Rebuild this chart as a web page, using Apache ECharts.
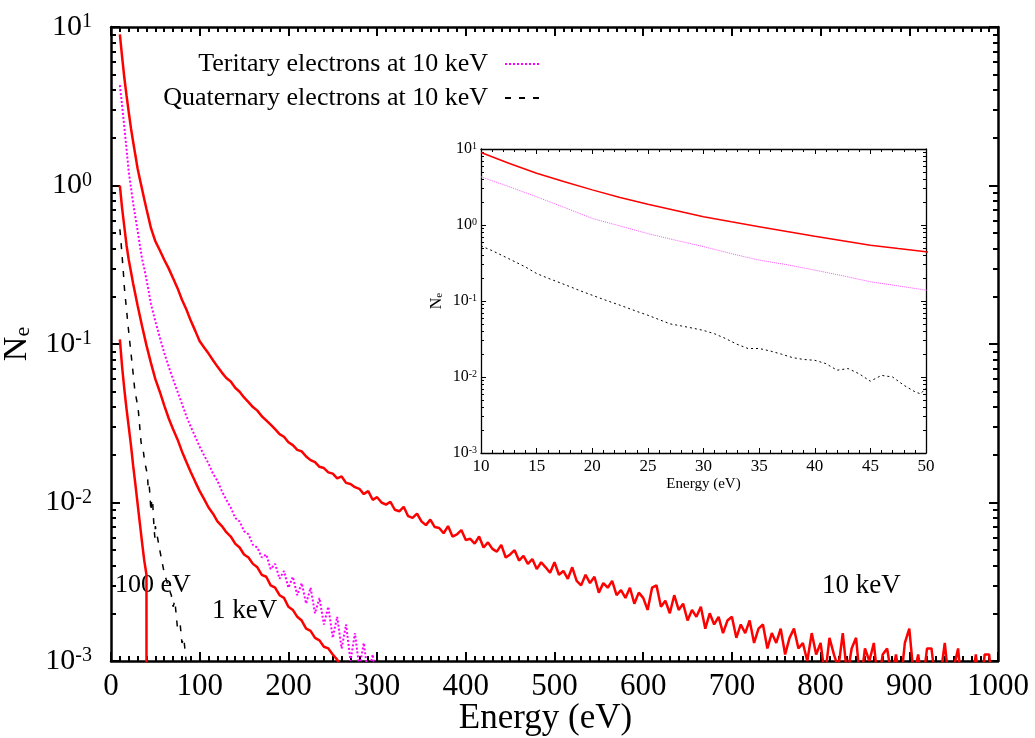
<!DOCTYPE html>
<html>
<head>
<meta charset="utf-8">
<script src="https://cdn.jsdelivr.net/npm/echarts@6/dist/echarts.min.js"></script>
<style>
  html, body { margin: 0; padding: 0; background: #fff; }
  #chart { width: 1035px; height: 738px; }
</style>
</head>
<body>
<div id="chart"></div>
<script>
// [energy (eV), Ne]
const tenKeV = [
  [10, 9.0], [12.5, 6.5], [15, 4.8], [17.5, 3.7], [20, 2.9], [22.5, 2.3], [25, 1.88], [27.5, 1.55],
  [30, 1.28], [32.5, 1.1], [35, 0.95], [37.5, 0.82], [40, 0.71], [42.5, 0.62], [45, 0.54], [47.5, 0.49],
  [50, 0.445], [55, 0.39], [60, 0.34], [65, 0.30], [70, 0.26], [75, 0.225], [80, 0.19], [85, 0.165],
  [90, 0.14], [95, 0.121]
]
const tenKeVTail = [
  [100, 0.104], [105, 0.095], [110, 0.087], [115, 0.079], [120, 0.072], [125, 0.066], [130, 0.061], [135, 0.058],
  [140, 0.053], [145, 0.050], [150, 0.046], [155, 0.043], [160, 0.040], [165, 0.038], [170, 0.035], [175, 0.033],
  [180, 0.031], [185, 0.029], [190, 0.027], [195, 0.026], [200, 0.024], [205, 0.023], [210, 0.0215], [215, 0.021],
  [220, 0.0195], [225, 0.0185], [230, 0.0180], [235, 0.0168], [240, 0.0165], [245, 0.0155], [250, 0.0152], [255, 0.0142],
  [260, 0.0146], [265, 0.0133], [270, 0.0131], [275, 0.0125], [280, 0.0122], [285, 0.0113], [290, 0.0118], [295, 0.0104],
  [300, 0.0108], [305, 0.0100], [310, 0.0097], [315, 0.0101], [320, 0.0090], [325, 0.0088], [330, 0.0094], [335, 0.0082],
  [340, 0.0080], [345, 0.0085], [350, 0.0076], [355, 0.0072], [360, 0.0078], [365, 0.0070], [370, 0.0069], [375, 0.0064],
  [380, 0.0071], [385, 0.0061], [390, 0.0063], [395, 0.0067], [400, 0.0058], [405, 0.0059], [410, 0.0055], [415, 0.0061],
  [420, 0.0052], [425, 0.0056], [430, 0.0051], [435, 0.0049], [440, 0.0054], [445, 0.0045], [450, 0.0047], [455, 0.0050],
  [460, 0.0043], [465, 0.0046], [470, 0.0041], [475, 0.0044], [480, 0.0038], [485, 0.0042], [490, 0.0039], [495, 0.0036],
  [500, 0.0042], [505, 0.0035], [510, 0.0037], [515, 0.0033], [520, 0.0039], [525, 0.0032], [530, 0.0030], [535, 0.0035],
  [540, 0.0031], [545, 0.0034], [550, 0.0027], [555, 0.0031], [560, 0.0029], [565, 0.0032], [570, 0.0026], [575, 0.0028],
  [580, 0.0025], [585, 0.0029], [590, 0.0023], [595, 0.0027], [600, 0.0025], [605, 0.0021], [610, 0.0029], [615, 0.0030],
  [620, 0.0022], [625, 0.0024], [630, 0.0020], [635, 0.0026], [640, 0.0021], [645, 0.0023], [650, 0.0018], [655, 0.0021],
  [660, 0.0019], [665, 0.0022], [670, 0.0016], [675, 0.0020], [680, 0.0017], [685, 0.0019], [690, 0.0015], [695, 0.0018],
  [700, 0.0019], [705, 0.0014], [710, 0.0017], [715, 0.0015], [720, 0.0018], [725, 0.0013], [730, 0.0016], [735, 0.0017],
  [740, 0.0012], [745, 0.0015], [750, 0.0013], [755, 0.0016], [760, 0.0011], [765, 0.0014], [770, 0.0016], [775, 0.0012],
  [780, 0.0013], [785, 0.0010], [790, 0.0015], [795, 0.0011], [800, 0.0013], [805, 0.0008], [810, 0.0014], [815, 0.0011],
  [820, 0.0009], [825, 0.0015], [830, 0.0008], [835, 0.0012], [840, 0.0014], [845, 0.0007], [850, 0.0012], [855, 0.0010],
  [860, 0.0013], [865, 0.0007], [870, 0.0011], [875, 0.0012], [880, 0.0008], [885, 0.0011], [890, 0.0007], [895, 0.0013],
  [900, 0.0016], [905, 0.0008], [910, 0.0011], [915, 0.0007], [920, 0.0012], [925, 0.0012], [930, 0.0007], [935, 0.0008],
  [940, 0.0013], [945, 0.0007], [950, 0.0009], [955, 0.0012], [960, 0.0006], [965, 0.0008], [970, 0.0007], [975, 0.0011],
  [980, 0.0006], [985, 0.0011], [990, 0.0011], [995, 0.0006]
]
const oneKeV = [
  [10, 1.0], [12.5, 0.72], [15, 0.55], [17.5, 0.42], [20, 0.34], [25, 0.24], [30, 0.175], [35, 0.13],
  [40, 0.098], [45, 0.076], [50, 0.060], [55, 0.050], [60, 0.041], [65, 0.034], [70, 0.029], [75, 0.025],
  [80, 0.021], [85, 0.018], [90, 0.0155], [95, 0.0135], [100, 0.0118], [105, 0.0105], [110, 0.0093], [115, 0.0085],
  [120, 0.0076], [125, 0.0071], [130, 0.0065], [135, 0.0061], [140, 0.0055], [145, 0.0052], [150, 0.0047], [155, 0.0045],
  [160, 0.0041], [165, 0.0039], [170, 0.0035], [175, 0.0034], [180, 0.0030], [185, 0.0029], [190, 0.0026], [195, 0.0025],
  [200, 0.0022], [205, 0.0021], [210, 0.0019], [215, 0.0018], [220, 0.0016], [225, 0.00155], [230, 0.0014], [235, 0.00135],
  [240, 0.00123], [245, 0.0012], [250, 0.0011], [255, 0.00102], [260, 0.0009]
]
const hundredEV = [
  [10, 0.107], [12.5, 0.072], [15, 0.052], [17.5, 0.039], [20, 0.030], [22.5, 0.023], [25, 0.017], [27.5, 0.013],
  [30, 0.0098], [32.5, 0.0074], [35, 0.0056], [37.5, 0.0043], [40, 0.0035], [40.1, 0.00001]
]
const tertiary = [
  [10, 4.3], [12.5, 3.2], [15, 2.35], [17.5, 1.7], [20, 1.22], [22.5, 0.97], [25, 0.77], [27.5, 0.63],
  [30, 0.52], [32.5, 0.42], [35, 0.345], [37.5, 0.30], [40, 0.255], [42.5, 0.215], [45, 0.179], [47.5, 0.158],
  [50, 0.139], [55, 0.110], [60, 0.088], [65, 0.072], [70, 0.060], [75, 0.050], [80, 0.042], [85, 0.035],
  [90, 0.030], [95, 0.026], [100, 0.0225], [105, 0.0198], [110, 0.0176], [115, 0.0152], [120, 0.0137], [125, 0.0118],
  [130, 0.0104], [135, 0.0093], [140, 0.0080], [145, 0.0076], [150, 0.0066], [155, 0.0063], [160, 0.0054], [165, 0.0052],
  [170, 0.0045], [175, 0.0047], [180, 0.0038], [185, 0.0041], [190, 0.0033], [195, 0.0037], [200, 0.0029], [205, 0.0034],
  [210, 0.0026], [215, 0.0031], [220, 0.0023], [225, 0.0029], [230, 0.0020], [235, 0.0025], [240, 0.0017], [245, 0.0022],
  [250, 0.0014], [255, 0.0019], [260, 0.0012], [265, 0.0017], [270, 0.0010], [275, 0.0015], [280, 0.0009], [285, 0.0013],
  [290, 0.0008], [295, 0.0011], [300, 0.0007]
]
const quaternary = [
  [10, 0.53], [11, 0.46], [12.5, 0.36], [14, 0.28], [15, 0.23], [16, 0.2], [17.5, 0.165], [19, 0.135],
  [20, 0.119], [21, 0.105], [22.5, 0.088], [24, 0.073], [25, 0.065], [26, 0.057], [27, 0.050], [28, 0.047],
  [29, 0.044], [30, 0.041], [31, 0.037], [32, 0.032], [33, 0.027], [34, 0.0237], [35, 0.0237], [36, 0.022],
  [37, 0.020], [38, 0.018], [39, 0.017], [40, 0.0166], [41, 0.015], [42, 0.0123], [43, 0.0129], [44, 0.011],
  [45, 0.0088], [46, 0.0105], [47, 0.0100], [48, 0.0078], [49, 0.0064], [49.5, 0.0060], [50, 0.0071], [52, 0.0062],
  [55, 0.0050], [58, 0.0041], [60, 0.0036], [62, 0.0033], [65, 0.0029], [68, 0.0026], [70, 0.0022], [72, 0.0024],
  [75, 0.0016], [78, 0.0017], [80, 0.0013], [82, 0.0014], [84, 0.0011], [86, 0.0008]
]

const tertName = 'Teritary electrons at 10 keV'
const quatName = 'Quaternary electrons at 10 keV'
const serif = 'Liberation Serif'

// 2..9 x 10^k minor ticks for the log axes
const minorLog = []
for (let k = -3; k < 1; k++) {
  for (let m = 2; m <= 9; m++) minorLog.push(+(m * Math.pow(10, k)).toPrecision(3))
}

let chart = echarts.init(document.getElementById('chart'))

function logLabel (size, supSize) {
  return {
    formatter: v => '{b|10}{s|' + Math.round(Math.log10(v)) + '}',
    rich: {
      b: { fontSize: size, fontFamily: serif, color: '#000' },
      s: { fontSize: supSize, fontFamily: serif, color: '#000', verticalAlign: 'top' }
    }
  }
}

function xAxisOf (grid, pos, o) {
  return {
    gridIndex: grid, type: 'value', position: pos, min: o.min, max: o.max, interval: o.interval,
    axisLine: { show: true, onZero: false, lineStyle: { color: '#000', width: o.lw } },
    axisTick: { show: true, inside: true, length: o.major, lineStyle: { color: '#000', width: o.tw } },
    minorTick: { show: true, splitNumber: o.minorSplit, length: o.minor, lineStyle: { color: '#000', width: o.tw } },
    splitLine: { show: false },
    minorSplitLine: { show: false },
    axisLabel: pos === 'bottom'
      ? { show: true, fontSize: o.font, fontFamily: serif, color: '#000', margin: o.margin, formatter: v => String(v) }
      : { show: false },
    name: pos === 'bottom' ? 'Energy (eV)' : '',
    nameLocation: 'middle', nameGap: o.nameGap, nameMoveOverlap: false,
    nameTextStyle: { fontSize: o.nameFont, fontFamily: serif, color: '#000', padding: o.namePad }
  }
}

function yAxesOf (grid, o) {
  const base = { gridIndex: grid, type: 'log', logBase: 10, min: 0.001, max: 10, splitLine: { show: false } }
  const lbl = logLabel(o.font, o.sup)
  lbl.margin = o.margin
  return [
    Object.assign({}, base, {
      position: 'left',
      axisLine: { show: true, onZero: false, lineStyle: { color: '#000', width: o.lw } },
      axisTick: { show: true, inside: true, length: o.major, lineStyle: { color: '#000', width: o.tw } },
      axisLabel: lbl,
      name: '{n|N}{e|e}', nameLocation: 'middle', nameRotate: 90, nameGap: o.nameGap,
      nameTextStyle: {
        rich: {
          n: { fontSize: o.nameFont, fontFamily: serif, color: '#000' },
          e: { fontSize: o.subFont, fontFamily: serif, color: '#000', verticalAlign: 'bottom' }
        }
      }
    }),
    Object.assign({}, base, {
      position: 'right',
      axisLine: { show: true, onZero: false, lineStyle: { color: '#000', width: o.lw } },
      axisTick: { show: true, inside: true, length: o.major, lineStyle: { color: '#000', width: o.tw } },
      axisLabel: { show: false }
    }),
    Object.assign({}, base, {
      position: 'left',
      axisLine: { show: false },
      axisTick: { show: true, inside: true, length: o.minor, customValues: minorLog, lineStyle: { color: '#000', width: o.tw } },
      axisLabel: { show: false }
    }),
    // minor ticks on the right edge: a left axis shifted across the whole grid, ticks pointing back in
    Object.assign({}, base, {
      position: 'left', offset: -o.width,
      axisLine: { show: false },
      axisTick: { show: true, inside: false, length: o.minor, customValues: minorLog, lineStyle: { color: '#000', width: o.tw } },
      axisLabel: { show: false }
    })
  ]
}

const mainX = { min: 0, max: 1000, interval: 100, lw: 2.5, tw: 2, major: 9, minor: 5, minorSplit: 10, font: 31, margin: 10, nameGap: 40, nameFont: 35, namePad: [0, 18, 0, 0] }
const insetX = { min: 10, max: 50, interval: 5, lw: 1.3, tw: 1, major: 5, minor: 3, minorSplit: 5, font: 17, margin: 5, nameGap: 24, nameFont: 15, namePad: 0 }
const mainY = { width: 887, lw: 2.5, tw: 2, major: 9, minor: 5, font: 30, sup: 20, margin: 19, nameGap: 70, nameFont: 34, subFont: 22 }
const insetY = { width: 445, lw: 1.3, tw: 1, major: 5, minor: 3, font: 16, sup: 10, margin: 4, nameGap: 36, nameFont: 16, subFont: 11 }

function line (name, data, xi, yi, color, width, type) {
  return {
    name: name, type: 'line', data: data, xAxisIndex: xi, yAxisIndex: yi,
    symbol: 'none', showSymbol: false, clip: true, animation: false,
    lineStyle: { color: color, width: width, type: type },
    itemStyle: { color: color }
  }
}

const legendBase = {
  right: 495, padding: 0, align: 'right', itemWidth: 34, itemHeight: 14,
  itemStyle: { color: 'transparent', borderWidth: 0, opacity: 0 },
  textStyle: { fontSize: 26, fontFamily: serif, color: '#000', padding: [0, 12, 0, 0] }
}

let options = {
  animation: false,
  backgroundColor: '#fff',
  grid: [
    { left: 111, right: 37, top: 27, bottom: 77, outerBoundsMode: 'none' },
    { left: 481, right: 109, top: 149, bottom: 285, outerBoundsMode: 'none', show: true, backgroundColor: '#fff', borderWidth: 0 }
  ],
  legend: [
    Object.assign({ data: [tertName], top: 51 }, legendBase),
    Object.assign({ data: [quatName], top: 85 }, legendBase)
  ],
  xAxis: [
    xAxisOf(0, 'bottom', mainX), xAxisOf(0, 'top', mainX),
    xAxisOf(1, 'bottom', insetX), xAxisOf(1, 'top', insetX)
  ],
  yAxis: yAxesOf(0, mainY).concat(yAxesOf(1, insetY)),
  series: [
    line('10 keV', tenKeV.concat(tenKeVTail), 0, 0, '#ff0000', 2.5, 'solid'),
    line('1 keV', oneKeV, 0, 0, '#ff0000', 2.5, 'solid'),
    line('100 eV', hundredEV, 0, 0, '#ff0000', 2.5, 'solid'),
    line(tertName, tertiary, 0, 0, '#ff00ff', 2, [2, 2]),
    line(quatName, quaternary, 0, 0, '#000000', 1.5, [6, 8]),
    line('10 keV inset', tenKeV, 2, 4, '#ff0000', 1.5, 'solid'),
    line('tertiary inset', tertiary, 2, 4, '#ff55ff', 1, [1, 1]),
    line('quaternary inset', quaternary, 2, 4, '#000000', 1, [2, 3])
  ],
  graphic: [
    { type: 'text', left: 115, top: 572, style: { text: '100 eV', font: '26px "Liberation Serif"', fill: '#000' } },
    { type: 'text', left: 212, top: 597, style: { text: '1 keV', font: '27px "Liberation Serif"', fill: '#000' } },
    { type: 'text', left: 822, top: 572, style: { text: '10 keV', font: '27px "Liberation Serif"', fill: '#000' } }
  ]
}

chart.setOption(options)
</script>
</body>
</html>
